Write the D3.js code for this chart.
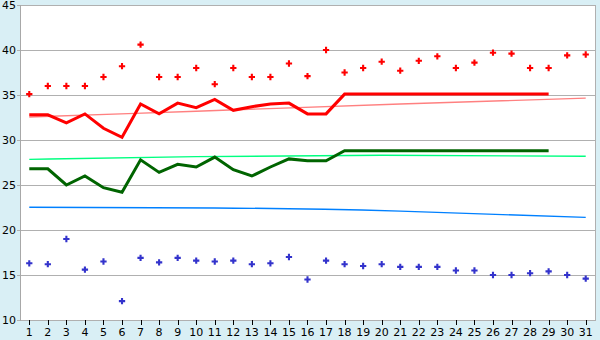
<!DOCTYPE html>
<html>
<head>
<meta charset="utf-8">
<script src="https://cdn.jsdelivr.net/npm/d3@7"></script>
<style>
  body { margin: 0; background: #d9eff5; }
  svg { display: block; font-family: "DejaVu Sans", Verdana, sans-serif; }
</style>
</head>
<body>
<svg id="chart"></svg>
<script>
var width = 600;
var height = 340;

// data
var days = [1,2,3,4,5,6,7,8,9,10,11,12,13,14,15,16,17,18,19,20,21,22,23,24,25,26,27,28,29,30,31];
var yTicks = [10,15,20,25,30,35,40,45];

var highPoints = [35.1,36,36,36,37,38.2,40.6,37,37,38,36.2,38,37,37,38.5,37.1,40,37.5,38,38.7,37.7,38.8,39.3,38,38.6,39.7,39.6,38,38,39.4,39.5];
var lowPoints = [16.3,16.2,19,15.6,16.5,12.1,16.9,16.4,16.9,16.6,16.5,16.6,16.2,16.3,17,14.5,16.6,16.2,16,16.2,15.9,15.9,15.9,15.5,15.5,15,15,15.2,15.4,15,14.6];

// thick lines, days 1..29
var redLine = [32.8,32.8,31.9,32.9,31.3,30.3,34,32.9,34.1,33.6,34.5,33.3,33.7,34,34.1,32.9,32.9,35.1,35.1,35.1,35.1,35.1,35.1,35.1,35.1,35.1,35.1,35.1,35.1];
var greenLine = [26.8,26.8,25,26,24.7,24.2,27.8,26.4,27.3,27,28.1,26.7,26,27,27.9,27.7,27.7,28.8,28.8,28.8,28.8,28.8,28.8,28.8,28.8,28.8,28.8,28.8,28.8];

// trend lines: [day, value]
var redTrend = [[1,32.55],[10,33.2],[21,34.0],[31,34.65]];
var greenTrend = [[1,27.85],[10,28.15],[20,28.3],[31,28.2]];
var blueTrend = [[1,22.52],[11,22.45],[21,22.1],[31,21.4]];

var svg = d3.select("#chart")
  .attr("width", width)
  .attr("height", height);

var x = d3.scaleBand()
  .domain(days)
  .range([20, 595])
  .padding(0);

var y = d3.scaleLinear()
  .domain([10, 45])
  .range([320, 5]);

function cx(d) { return x(d) + x.bandwidth() / 2; }

svg.append("rect")
  .attr("x", 20)
  .attr("y", 5)
  .attr("width", 575)
  .attr("height", 315)
  .attr("fill", "white");

// grid
svg.selectAll(".grid")
  .data(yTicks)
  .enter().append("line")
  .attr("x1", 17)
  .attr("x2", 595)
  .attr("y1", function(d) { return Math.round(y(d)) + 0.5; })
  .attr("y2", function(d) { return Math.round(y(d)) + 0.5; })
  .attr("stroke", "#b0b0b0")
  .attr("stroke-width", 1);

svg.append("line")
  .attr("x1", 20.5).attr("x2", 20.5)
  .attr("y1", 5).attr("y2", 321)
  .attr("stroke", "#a8a8a8");

svg.append("line")
  .attr("x1", 595.5).attr("x2", 595.5)
  .attr("y1", 5).attr("y2", 321)
  .attr("stroke", "#b0b0b0");

// y labels
svg.selectAll(".ylab")
  .data(yTicks)
  .enter().append("text")
  .attr("x", 16)
  .attr("y", function(d) { return y(d) + 4; })
  .attr("text-anchor", "end")
  .attr("font-size", 11)
  .attr("fill", "#000")
  .text(function(d) { return d; });

// x ticks and labels
svg.selectAll(".xtick")
  .data(days)
  .enter().append("line")
  .attr("x1", function(d) { return Math.round(cx(d)) + 0.5; })
  .attr("x2", function(d) { return Math.round(cx(d)) + 0.5; })
  .attr("y1", 320)
  .attr("y2", 325)
  .attr("stroke", "#000");

svg.selectAll(".xlab")
  .data(days)
  .enter().append("text")
  .attr("x", function(d) { return cx(d); })
  .attr("y", 336)
  .attr("text-anchor", "middle")
  .attr("font-size", 11)
  .attr("fill", "#000")
  .text(function(d) { return d; });

// trend lines
var trendLine = d3.line()
  .x(function(d) { return cx(d[0]); })
  .y(function(d) { return y(d[1]); })
  .curve(d3.curveMonotoneX);

svg.append("path").attr("d", trendLine(redTrend))
  .attr("fill", "none").attr("stroke", "#ff8080").attr("stroke-width", 1.4);
svg.append("path").attr("d", trendLine(greenTrend))
  .attr("fill", "none").attr("stroke", "#00ff80").attr("stroke-width", 1.4);
svg.append("path").attr("d", trendLine(blueTrend))
  .attr("fill", "none").attr("stroke", "#0080ff").attr("stroke-width", 1.4);

// thick lines
var valueLine = d3.line()
  .x(function(d, i) { return cx(days[i]); })
  .y(function(d) { return y(d); });

svg.append("path").attr("d", valueLine(greenLine))
  .attr("fill", "none").attr("stroke", "#006400").attr("stroke-width", 3);
svg.append("path").attr("d", valueLine(redLine))
  .attr("fill", "none").attr("stroke", "#ff0000").attr("stroke-width", 3);

// points
var cross = d3.symbol().type(d3.symbolCross).size(22);

svg.selectAll(".hi")
  .data(highPoints)
  .enter().append("path")
  .attr("d", cross)
  .attr("transform", function(d, i) { return "translate(" + cx(days[i]) + "," + y(d) + ")"; })
  .attr("fill", "#ff0000");

svg.selectAll(".lo")
  .data(lowPoints)
  .enter().append("path")
  .attr("d", cross)
  .attr("transform", function(d, i) { return "translate(" + cx(days[i]) + "," + y(d) + ")"; })
  .attr("fill", "#3333cc");
</script>
</body>
</html>
